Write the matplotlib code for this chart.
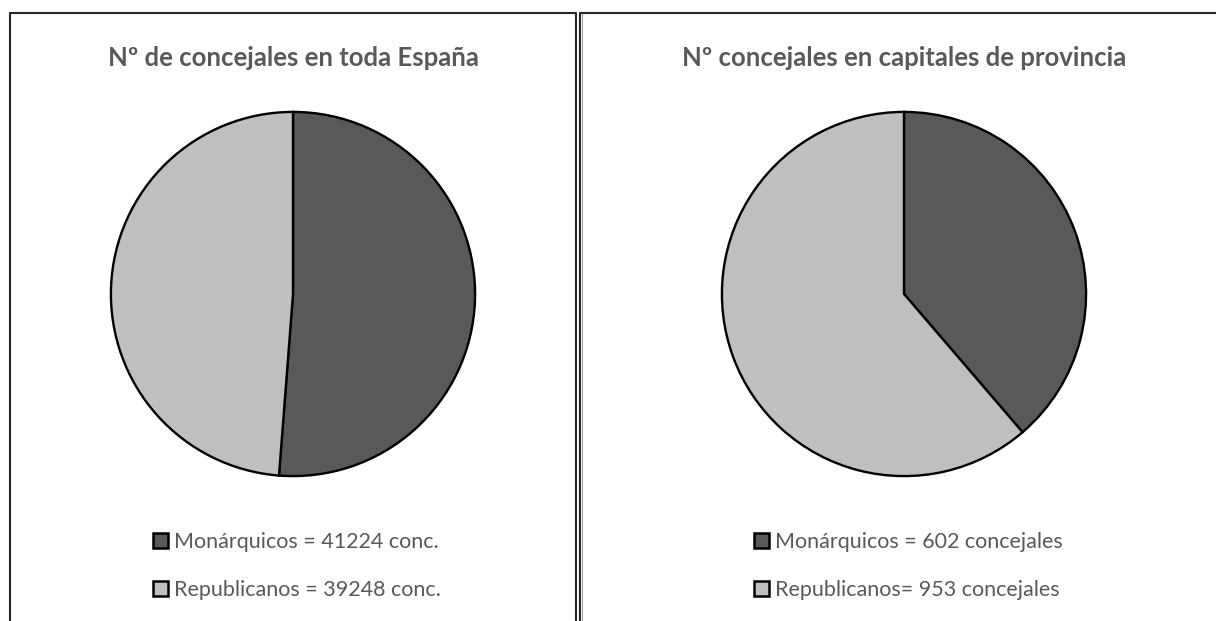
import matplotlib.pyplot as plt
from matplotlib.lines import Line2D
from matplotlib.patches import Patch

plt.rcParams['font.family'] = ['Lato', 'DejaVu Sans']

titles = ['Nº de concejales en toda España', 'Nº concejales en capitales de provincia']
values_espana = [41224, 39248]
values_capitales = [602, 953]
labels_espana = ['Monárquicos = 41224 conc.', 'Republicanos = 39248 conc.']
labels_capitales = ['Monárquicos = 602 concejales', 'Republicanos= 953 concejales']
colors = ['#595959', '#bfbfbf']
text_col = '#595959'

W, H = 1216, 621
fig = plt.figure(figsize=(W / 100, H / 100), dpi=100)

def fx(px):
    return px / W

def fy(py):
    return 1 - py / H

# panel borders
for xs, ys in [([10, 10, 576, 576], [H + 5, 13, 13, H + 5]),
               ([580, 580, W + 5], [H + 5, 13, 13])]:
    fig.add_artist(Line2D([fx(x) for x in xs], [fy(y) for y in ys], color='#262626', lw=1.5,
                          transform=fig.transFigure))
fig.add_artist(Line2D([fx(581.8), fx(581.8)], [fy(14), fy(H + 5)], color='#a0a0a0', lw=0.8,
                      transform=fig.transFigure))

panels = [(293, values_espana, labels_espana, titles[0], 3.5),
          (904, values_capitales, labels_capitales, titles[1], 4.5)]
r = 183
cy = 294
for cx, vals, labs, title, dx in panels:
    ax = fig.add_axes([fx(cx - r), fy(cy + r), fx(2 * r), (2 * r) / H])
    ax.pie(vals, colors=colors, startangle=90, counterclock=False,
           wedgeprops=dict(edgecolor='black', linewidth=1.7))
    ax.set_xlim(-1.005, 1.005)
    ax.set_ylim(-1.005, 1.005)
    ax.set_axis_off()
    fig.text(fx(cx), fy(66), title, ha='center', va='baseline', fontsize=18.5,
             fontweight='bold', color=text_col)
    handles = [Patch(facecolor=c, edgecolor='black', linewidth=1.8) for c in colors]
    fig.legend(handles, labs, loc='center', bbox_to_anchor=(fx(cx + dx), fy(566)),
               frameon=False, fontsize=15.5, labelcolor=text_col,
               handlelength=0.7, handleheight=0.7, handletextpad=0.28,
               labelspacing=1.3)

fig.savefig('out.png', dpi=100)
